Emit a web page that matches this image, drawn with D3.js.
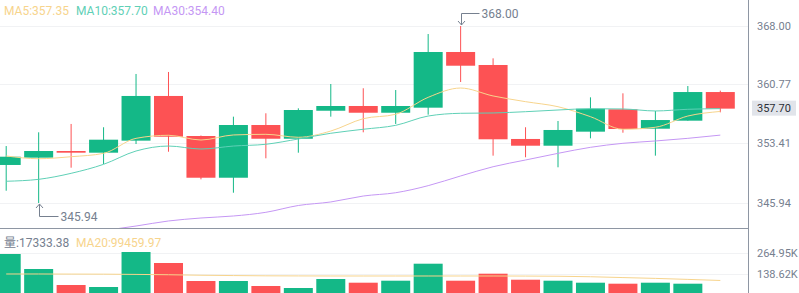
<!DOCTYPE html>
<html>
<head>
<meta charset="utf-8">
<script src="https://cdn.jsdelivr.net/npm/d3@7"></script>
<style>
  body { margin: 0; background: #fff; }
  svg { display: block; font-family: Roboto, "Noto Sans CJK SC", sans-serif; }
</style>
</head>
<body>
<div id="chart"></div>
<script>
// candle data
var opens  = [350.68, 351.59, 352.42, 352.21, 353.71, 359.28, 354.29, 349.09, 355.66, 353.95, 357.44, 358.03,
              357.19, 357.82, 364.76, 363.14, 353.92, 353.08, 354.83, 357.62, 355.20, 356.20, 359.77];
var highs  = [353.04, 354.75, 355.79, 355.38, 362.02, 362.27, 354.35, 356.70, 357.12, 357.74, 360.77, 360.24,
              360.02, 367.00, 368.00, 363.97, 355.38, 356.16, 359.11, 359.61, 357.41, 360.52, 359.94];
var lows   = [347.47, 345.94, 350.34, 350.80, 353.29, 352.33, 348.89, 347.22, 351.51, 352.21, 356.70, 354.75,
              355.79, 356.95, 361.02, 351.84, 351.64, 350.39, 354.00, 354.70, 351.84, 356.20, 357.24];
var closes = [351.71, 352.42, 352.21, 353.83, 359.28, 354.20, 349.09, 355.66, 353.95, 357.53, 358.03, 357.19,
              358.03, 364.76, 363.05, 353.88, 353.08, 355.04, 357.69, 355.16, 356.28, 359.77, 357.70];
var volumes = [258900, 168600, 72200, 60200, 270900, 204700, 96300, 96300, 66200, 54200, 108400, 86100,
               98100, 200500, 98100, 140300, 104100, 98100, 86100, 80100, 86100, 80100, 17333.38];

// indicator lines
var ma5  = [351.80, 351.46, 351.71, 352.13, 354.00, 354.38, 353.79, 354.42, 354.50, 354.13, 354.91, 356.45,
            357.00, 359.11, 360.27, 359.28, 358.57, 357.94, 356.70, 355.13, 355.38, 356.78, 357.35];
var ma10 = [348.65, 348.89, 349.64, 350.76, 352.42, 353.04, 352.67, 353.04, 353.26, 353.92, 354.63, 355.13,
            355.62, 356.78, 357.12, 357.16, 357.32, 357.53, 357.69, 357.66, 357.41, 357.62, 357.70];
var ma30 = [340.70, 341.30, 341.90, 342.50, 343.07, 343.70, 344.07, 344.32, 344.78, 345.63, 346.07, 346.81,
            347.22, 348.10, 349.31, 350.46, 351.30, 352.13, 352.88, 353.38, 353.67, 354.00, 354.40];
var volMa20 = [138500, 138500, 138000, 137500, 136000, 134000, 131000, 129000, 127500, 127000, 126500, 126500,
               126500, 126500, 126500, 126500, 126000, 125000, 122000, 117000, 112000, 106000, 99459.97];

var priceTicks = [368.00, 360.77, 353.41, 345.94];
var volumeTicks = [264950, 138620];

var W = 799, H = 293;
var axisX = 748;
var paneSplit = 228.5;

var upColor = "#14b887", downColor = "#fd5254";
var ma5Color = "#f7d48c", ma10Color = "#5fd0b6", ma30Color = "#c597f4";
var textGray = "#76808f", gridColor = "#f1f2f4";

var svg = d3.select("#chart").append("svg")
    .attr("width", W)
    .attr("height", H);

var x = d3.scaleLinear().domain([0, opens.length - 1]).range([6.2, 720.3]);
var y = d3.scaleLinear().domain([345.94, 368.00]).range([203, 26]);
var yv = d3.scaleLinear().domain([0, 264950]).range([297, 253]);
var bodyW = 29;

var defs = svg.append("defs");
defs.append("clipPath").attr("id", "priceClip")
    .append("rect").attr("x", 0).attr("y", 0).attr("width", axisX).attr("height", paneSplit);
defs.append("clipPath").attr("id", "volClip")
    .append("rect").attr("x", 0).attr("y", paneSplit + 1).attr("width", axisX).attr("height", H - paneSplit);

// grid lines
svg.append("g").selectAll("line")
    .data(priceTicks)
    .enter().append("line")
    .attr("x1", 0).attr("x2", axisX)
    .attr("y1", function(d){ return Math.round(y(d)) + 0.5; })
    .attr("y2", function(d){ return Math.round(y(d)) + 0.5; })
    .attr("stroke", gridColor);

svg.append("g").selectAll("line")
    .data(volumeTicks)
    .enter().append("line")
    .attr("x1", 0).attr("x2", axisX)
    .attr("y1", function(d){ return Math.round(yv(d)) + 0.5; })
    .attr("y2", function(d){ return Math.round(yv(d)) + 0.5; })
    .attr("stroke", gridColor);

// candles
var price = svg.append("g").attr("clip-path", "url(#priceClip)");
var idx = d3.range(opens.length);

function colorOf(i){ return closes[i] >= opens[i] ? upColor : downColor; }

price.selectAll("line.wick")
    .data(idx)
    .enter().append("line")
    .attr("class", "wick")
    .attr("x1", function(i){ return x(i); })
    .attr("x2", function(i){ return x(i); })
    .attr("y1", function(i){ return y(highs[i]); })
    .attr("y2", function(i){ return y(lows[i]); })
    .attr("stroke", colorOf)
    .attr("stroke-width", 1);

price.selectAll("rect.body")
    .data(idx)
    .enter().append("rect")
    .attr("class", "body")
    .attr("x", function(i){ return x(i) - bodyW / 2; })
    .attr("width", bodyW)
    .attr("y", function(i){ return y(Math.max(opens[i], closes[i])); })
    .attr("height", function(i){ return Math.max(1.5, Math.abs(y(opens[i]) - y(closes[i]))); })
    .attr("fill", colorOf);

// moving averages
function drawLine(g, data, scale, color){
    var line = d3.line()
        .x(function(d, i){ return x(i); })
        .y(function(d){ return scale(d); })
        .curve(d3.curveMonotoneX);
    g.append("path")
        .datum(data)
        .attr("d", line)
        .attr("fill", "none")
        .attr("stroke", color)
        .attr("stroke-width", 1);
}
drawLine(price, ma5, y, ma5Color);
drawLine(price, ma10, y, ma10Color);
drawLine(price, ma30, y, ma30Color);

// volume bars
var vol = svg.append("g").attr("clip-path", "url(#volClip)");
vol.selectAll("rect")
    .data(idx)
    .enter().append("rect")
    .attr("x", function(i){ return x(i) - bodyW / 2; })
    .attr("width", bodyW)
    .attr("y", function(i){ return yv(volumes[i]); })
    .attr("height", function(i){ return yv(0) - yv(volumes[i]); })
    .attr("fill", colorOf);
drawLine(vol, volMa20, yv, ma5Color);

// high / low markers
var hi = d3.maxIndex(highs), lo = d3.minIndex(lows);
var mk = svg.append("g").attr("stroke", textGray).attr("fill", "none").attr("stroke-width", 1);
var hx = Math.round(x(hi)) + 0.5, hy = y(highs[hi]) - 1;
mk.append("path").attr("d", "M" + hx + "," + hy + "V13.5H" + (hx + 18));
mk.append("path").attr("d", "M" + (hx - 3.5) + "," + (hy - 4) + "L" + hx + "," + hy + "L" + (hx + 3.5) + "," + (hy - 4));
var lx = Math.round(x(lo)) + 0.5, ly = y(lows[lo]) + 1;
mk.append("path").attr("d", "M" + lx + "," + ly + "V216.5H" + (lx + 19));
mk.append("path").attr("d", "M" + (lx - 3.5) + "," + (ly + 4) + "L" + lx + "," + ly + "L" + (lx + 3.5) + "," + (ly + 4));

svg.append("text").attr("x", hx + 20).attr("y", 13.5).attr("dy", "0.35em")
    .attr("font-size", 12).attr("fill", textGray).text(highs[hi].toFixed(2));
svg.append("text").attr("x", lx + 21).attr("y", 216.5).attr("dy", "0.35em")
    .attr("font-size", 12).attr("fill", textGray).text(lows[lo].toFixed(2));

// pane separator and right axis
svg.append("line").attr("x1", 0).attr("x2", axisX).attr("y1", paneSplit).attr("y2", paneSplit)
    .attr("stroke", "#8e96a3");
svg.append("line").attr("x1", axisX + 0.5).attr("x2", axisX + 0.5).attr("y1", 0).attr("y2", H)
    .attr("stroke", "#8e96a3");

var axisG = svg.append("g").attr("font-size", 11).attr("fill", textGray);
axisG.selectAll("text.p")
    .data(priceTicks)
    .enter().append("text")
    .attr("class", "p")
    .attr("x", axisX + 9)
    .attr("y", function(d){ return y(d); })
    .attr("dy", "0.35em")
    .text(function(d){ return d.toFixed(2); });
axisG.selectAll("text.v")
    .data(volumeTicks)
    .enter().append("text")
    .attr("class", "v")
    .attr("x", axisX + 9)
    .attr("y", function(d){ return yv(d); })
    .attr("dy", "0.35em")
    .text(function(d){ return (d / 1000).toFixed(2) + "K"; });

// last price tag
var last = closes[closes.length - 1];
svg.append("rect").attr("x", axisX + 4).attr("y", y(last) - 8).attr("width", 44).attr("height", 15)
    .attr("fill", "#e1e4ea");
svg.append("text").attr("x", axisX + 9).attr("y", y(last)).attr("dy", "0.35em")
    .attr("font-size", 11).attr("fill", "#2b2f36").text(last.toFixed(2));

// legends
var lg = svg.append("text").attr("x", 4).attr("y", 11).attr("dy", "0.35em").attr("font-size", 12);
lg.append("tspan").attr("fill", ma5Color).text("MA5:" + ma5[ma5.length - 1].toFixed(2));
lg.append("tspan").attr("x", 76).attr("fill", ma10Color).text("MA10:" + ma10[ma10.length - 1].toFixed(2));
lg.append("tspan").attr("x", 153).attr("fill", ma30Color).text("MA30:" + ma30[ma30.length - 1].toFixed(2));

var vg = svg.append("text").attr("x", 4).attr("y", 243).attr("dy", "0.35em").attr("font-size", 12);
vg.append("tspan").attr("fill", textGray).text("量:" + volumes[volumes.length - 1].toFixed(2));
vg.append("tspan").attr("x", 76).attr("fill", ma5Color).text("MA20:" + volMa20[volMa20.length - 1].toFixed(2));
</script>
</body>
</html>
